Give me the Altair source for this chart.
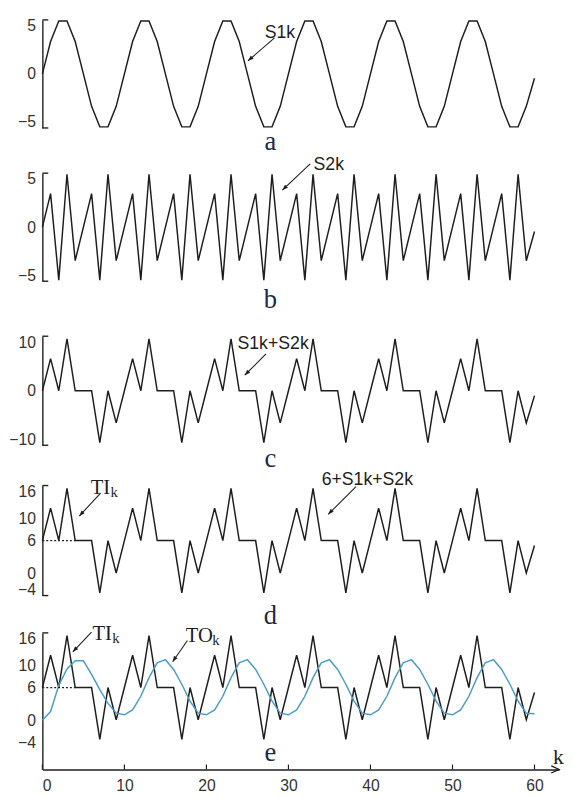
import math
import altair as alt
import pandas as pd

# ---------------- data ----------------
K = list(range(61))

S1 = [0, 3.0, 4.9, 4.9, 3.0, 0, -3.0, -4.9, -4.9, -3.0,
      0, 3.0, 4.9, 4.9, 3.0, 0, -3.0, -4.9, -4.9, -3.0,
      0, 3.0, 4.9, 4.9, 3.0, 0, -3.0, -4.9, -4.9, -3.0,
      0, 3.0, 4.9, 4.9, 3.0, 0, -3.0, -4.9, -4.9, -3.0,
      0, 3.0, 4.9, 4.9, 3.0, 0, -3.0, -4.9, -4.9, -3.0,
      0, 3.0, 4.9, 4.9, 3.0, 0, -3.0, -4.9, -4.9, -3.0,
      -0.4]

S2 = [0, 3.1, -4.9, 4.9, -3.1, 0, 3.1, -4.9, 4.9, -3.1,
      0, 3.1, -4.9, 4.9, -3.1, 0, 3.1, -4.9, 4.9, -3.1,
      0, 3.1, -4.9, 4.9, -3.1, 0, 3.1, -4.9, 4.9, -3.1,
      0, 3.1, -4.9, 4.9, -3.1, 0, 3.1, -4.9, 4.9, -3.1,
      0, 3.1, -4.9, 4.9, -3.1, 0, 3.1, -4.9, 4.9, -3.1,
      0, 3.1, -4.9, 4.9, -3.1, 0, 3.1, -4.9, 4.9, -3.1,
      -0.4]

SUM = [0, 5.9, 0, 9.5, 0, 0, 0, -9.5, 0, -5.9,
       0, 5.9, 0, 9.5, 0, 0, 0, -9.5, 0, -5.9,
       0, 5.9, 0, 9.5, 0, 0, 0, -9.5, 0, -5.9,
       0, 5.9, 0, 9.5, 0, 0, 0, -9.5, 0, -5.9,
       0, 5.9, 0, 9.5, 0, 0, 0, -9.5, 0, -5.9,
       0, 5.9, 0, 9.5, 0, 0, 0, -9.5, 0, -5.9,
       -0.9]

TI = [6, 11.9, 6, 15.5, 6, 6, 6, -3.5, 6, 0.1,
      6, 11.9, 6, 15.5, 6, 6, 6, -3.5, 6, 0.1,
      6, 11.9, 6, 15.5, 6, 6, 6, -3.5, 6, 0.1,
      6, 11.9, 6, 15.5, 6, 6, 6, -3.5, 6, 0.1,
      6, 11.9, 6, 15.5, 6, 6, 6, -3.5, 6, 0.1,
      6, 11.9, 6, 15.5, 6, 6, 6, -3.5, 6, 0.1,
      5.1]

TO = [0, 1.6, 6.4, 9.4, 10.9, 10.9, 8.4, 5.6, 3.1, 1.3,
      1.0, 1.9, 4.4, 7.8, 10.5, 11.1, 9.3, 6.6, 3.5, 1.3,
      1.0, 1.9, 4.4, 7.8, 10.5, 11.1, 9.3, 6.6, 3.5, 1.3,
      1.0, 1.9, 4.4, 7.8, 10.5, 11.1, 9.3, 6.6, 3.5, 1.3,
      1.0, 1.9, 4.4, 7.8, 10.5, 11.1, 9.3, 6.6, 3.5, 1.3,
      1.0, 1.9, 4.4, 7.8, 10.5, 11.1, 9.3, 6.6, 3.5, 1.3,
      1.2]

X_TICKS = [0, 10, 20, 30, 40, 50, 60]
Y_TICKS_AB = [5, 0, -5]
Y_TICKS_C = [10, 0, -10]
Y_TICKS_DE = [16, 10, 6, 0, -4]
PANEL_LETTERS = ["a", "b", "c", "d", "e"]
BASE_LEVEL = 6
BASE_SPAN = [0, 4]

# ---------------- style ----------------
W = 526
XMAX = 63
SANS = "Liberation Sans"
SERIF = "Liberation Serif"
INK = "#1e1e1e"
LABEL = "#333333"
BLUE = "#4b9cc8"
NAVY = "#1c2a48"


def xenc(field, show_axis=False):
    ax = None
    if show_axis:
        ax = alt.Axis(values=X_TICKS, ticks=False, domain=True, domainColor=INK,
                      domainWidth=1.4, labelFont=SANS, labelFontSize=16,
                      labelColor=LABEL, labelPadding=8, grid=False, title=None)
    return alt.X(f"{field}:Q", scale=alt.Scale(domain=[0, XMAX], nice=False, zero=False),
                 axis=ax)


def yenc(field, dom, ticks):
    ax = alt.Axis(values=ticks, ticks=False, domain=True, domainColor=INK,
                  domainWidth=1.4, labelFont=SANS, labelFontSize=16, labelColor=LABEL,
                  labelPadding=7, labelFlush=True, labelFlushOffset=2, labelOverlap=False,
                  grid=False, title=None)
    return alt.Y(f"{field}:Q", scale=alt.Scale(domain=dom, nice=False, zero=False), axis=ax)


def arrow_angle(x1, y1, x2, y2, H, dom):
    dxp = (x2 - x1) * W / XMAX
    dyp = -(y2 - y1) * H / (dom[1] - dom[0])
    return math.degrees(math.atan2(dyp, dxp)) % 360


def panel(H, dom, ticks, series, notes, letter, letter_y, show_x=False,
          bottom_serif=True, base_line=False):
    X = lambda f: xenc(f, show_x)
    Y = lambda f: yenc(f, dom, ticks)
    layers = []
    for vals, col in series:
        df = pd.DataFrame({"k": K, "v": vals})
        layers.append(alt.Chart(df).mark_line(color=col, strokeWidth=1.5)
                      .encode(x=X("k"), y=Y("v")))
    if base_line:
        df = pd.DataFrame({"x1": [BASE_SPAN[0]], "x2": [BASE_SPAN[1]], "y": [BASE_LEVEL]})
        layers.append(alt.Chart(df).mark_rule(color=INK, strokeWidth=1.3, strokeDash=[2, 2])
                      .encode(x=X("x1"), x2="x2", y=Y("y")))
    # axis bracket serifs
    one = pd.DataFrame({"a": [0]})
    layers.append(alt.Chart(one).mark_rule(color=INK, strokeWidth=1.4)
                  .encode(x=alt.value(0), x2=alt.value(6), y=alt.value(0)))
    if bottom_serif:
        layers.append(alt.Chart(one).mark_rule(color=INK, strokeWidth=1.4)
                      .encode(x=alt.value(0), x2=alt.value(6), y=alt.value(H)))
    # annotations
    for n in notes:
        tdf = pd.DataFrame({"x": [n["tx"]], "y": [n["ty"]], "t": [n["text"]]})
        layers.append(alt.Chart(tdf).mark_text(font=n["font"], fontSize=n["size"], color=INK,
                                               align="left", baseline="alphabetic")
                      .encode(x=X("x"), y=Y("y"), text="t:N"))
        if n.get("sub"):
            sdf = pd.DataFrame({"x": [n["tx"]], "y": [n["ty"]], "t": [n["sub"]]})
            layers.append(alt.Chart(sdf).mark_text(font=n["font"], fontSize=n["size"] - 6,
                                                   color=INK, align="left",
                                                   baseline="alphabetic",
                                                   dx=n["subdx"], dy=3)
                          .encode(x=X("x"), y=Y("y"), text="t:N"))
        x1, y1, x2, y2 = n["arrow"]
        adf = pd.DataFrame({"x1": [x1], "y1": [y1], "x2": [x2], "y2": [y2],
                            "ang": [arrow_angle(x1, y1, x2, y2, H, dom)]})
        layers.append(alt.Chart(adf).mark_rule(color=INK, strokeWidth=1.1)
                      .encode(x=X("x1"), x2="x2", y=Y("y1"), y2="y2"))
        layers.append(alt.Chart(adf).mark_point(shape="M0,0L-1,-0.38L-1,0.38Z", filled=True,
                                                size=130, color=INK, opacity=1)
                      .encode(x=X("x2"), y=Y("y2"), angle=alt.Angle("ang:Q", scale=None)))
    # panel letter
    ldf = pd.DataFrame({"x": [27.8], "t": [letter]})
    layers.append(alt.Chart(ldf).mark_text(font=SERIF, fontSize=27, color=NAVY,
                                           align="center", baseline="alphabetic")
                  .encode(x=X("x"), y=alt.value(letter_y), text="t:N"))
    if show_x:
        tdf = pd.DataFrame({"t": X_TICKS})
        layers.append(alt.Chart(tdf).mark_rule(color=INK, strokeWidth=1.2)
                      .encode(x=X("t"), y=alt.value(H), y2=alt.value(H - 5)))
        hdf = pd.DataFrame({"t": [XMAX]})
        layers.append(alt.Chart(hdf).mark_point(shape="M-1,-0.45L0,0L-1,0.45", filled=False,
                                                size=256, color=INK, strokeWidth=1.3,
                                                opacity=1)
                      .encode(x=X("t"), y=alt.value(H)))
        kdf = pd.DataFrame({"x": [62.9], "t": ["k"]})
        layers.append(alt.Chart(kdf).mark_text(font=SERIF, fontSize=22, color=INK,
                                               align="center", baseline="alphabetic")
                      .encode(x=X("x"), y=alt.value(H - 6), text="t:N"))
    return alt.layer(*layers).properties(width=W, height=H)


def spacer(h):
    one = pd.DataFrame({"a": [0]})
    return alt.Chart(one).mark_rule(opacity=0).encode(
        x=alt.value(0), x2=alt.value(1), y=alt.value(0)).properties(width=W, height=h)


pa = panel(110, [-5, 5], Y_TICKS_AB, [(S1, INK)],
           [{"text": "S1k", "tx": 27.1, "ty": 3.36, "font": SANS, "size": 18,
             "arrow": (28.3, 3.34, 25.07, 1.21)}],
           PANEL_LETTERS[0], 132)

pb = panel(110, [-5, 5], Y_TICKS_AB, [(S2, INK)],
           [{"text": "S2k", "tx": 33.06, "ty": 5.27, "font": SANS, "size": 18,
             "arrow": (32.65, 5.85, 29.26, 3.43)}],
           PANEL_LETTERS[1], 137)

pc = panel(111, [-10, 10], Y_TICKS_C, [(SUM, INK)],
           [{"text": "S1k+S2k", "tx": 23.79, "ty": 7.66, "font": SANS, "size": 18,
             "arrow": (27.26, 6.76, 24.67, 2.85)}],
           PANEL_LETTERS[2], 133)

pd_ = panel(112, [-4, 16], Y_TICKS_DE, [(TI, INK)],
            [{"text": "TI", "sub": "k", "subdx": 20, "tx": 5.9, "ty": 14.39, "font": SERIF,
              "size": 21, "arrow": (7.1, 14.63, 4.5, 10.46)},
             {"text": "6+S1k+S2k", "tx": 34.05, "ty": 16.13, "font": SANS, "size": 18,
              "arrow": (38.24, 15.82, 34.85, 10.77)}],
            PANEL_LETTERS[3], 141, base_line=True)

pe = panel(139, [-9, 16], Y_TICKS_DE, [(TI, INK), (TO, BLUE)],
           [{"text": "TI", "sub": "k", "subdx": 20, "tx": 6.11, "ty": 14.62, "font": SERIF,
             "size": 21, "arrow": (5.99, 16.13, 3.71, 12.53)},
            {"text": "TO", "sub": "k", "subdx": 27, "tx": 17.49, "ty": 14.38, "font": SERIF,
             "size": 21, "arrow": (17.68, 14.62, 15.88, 10.73)}],
           PANEL_LETTERS[4], 130, show_x=True, bottom_serif=False, base_line=True)

chart = alt.VConcatChart(
    vconcat=[pa, spacer(46), pb, spacer(56), pc, spacer(41), pd_, spacer(38), pe],
    spacing=0, bounds="flush"
).resolve_scale(x="independent", y="independent")

chart = chart.properties(padding={"left": 0, "top": 2, "right": 0, "bottom": 0},
                         background="white").configure_view(stroke="transparent")

chart.save("out.html", embed_options={"renderer": "svg", "actions": False})
